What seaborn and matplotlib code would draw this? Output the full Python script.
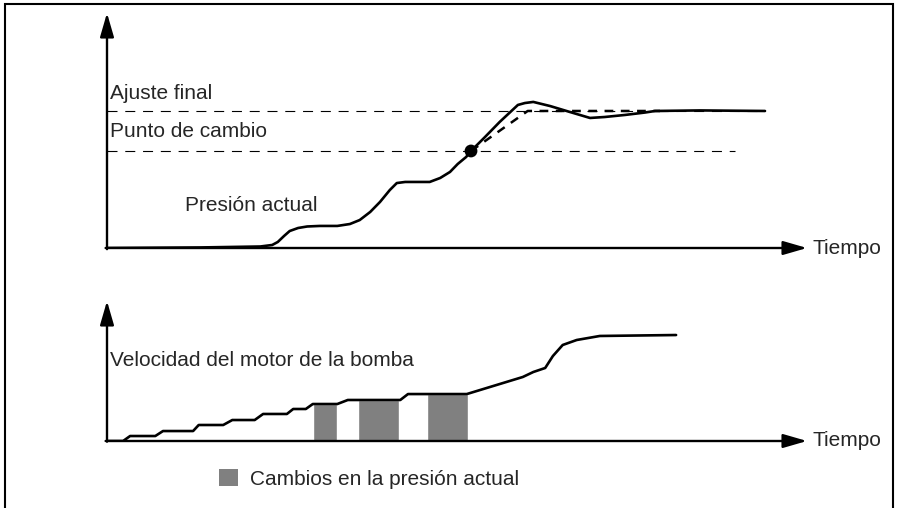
import matplotlib
matplotlib.use("Agg")
import matplotlib.pyplot as plt
import seaborn as sns
from matplotlib.patches import Patch, Rectangle

# presión actual (tiempo 0-100, presión 0-100 = ajuste final)
t_presion = [0, 13.3, 21.9, 23.6, 24.4, 25.3, 26.1, 27.3, 28.6, 30.4, 32.9, 34.7, 36.1,
             37.6, 39.0, 40.4, 41.4, 42.6, 46.1, 47.6, 49.0, 50.1, 51.3, 52.0, 54.0,
             56.1, 58.7, 59.7, 60.9, 63.3, 66.1, 69.0, 71.1, 74.0, 76.9, 78.3, 84.7, 94.0]
presion = [0, 0.4, 1.1, 2.2, 4.4, 8.8, 12.4, 14.6, 15.7, 16.1, 16.1, 17.5, 20.4,
           26.3, 33.6, 42.3, 47.4, 48.2, 48.2, 51.1, 55.5, 61.3, 66.4, 70.8, 81.0,
           92.0, 104.4, 105.8, 106.6, 103.6, 99.3, 94.9, 95.6, 97.1, 98.9, 100, 100.4, 100]

# rampa de consigna tras el punto de cambio
t_rampa = [52.0, 60.1, 79.0]
rampa = [70.8, 100, 100]

ajuste_final = 100
punto_cambio = 70.8
t_cambio = 52.0

# velocidad del motor de la bomba
t_vel = [0, 2.3, 3.3, 6.9, 8.0, 12.3, 13.1, 16.6, 17.9, 21.1, 22.3, 25.7, 26.6, 28.4,
         29.4, 32.9, 34.4, 41.9, 43.0, 51.4, 59.4, 60.9, 62.6, 63.7, 65.1, 67.1, 70.4, 81.3]
velocidad = [0, 0, 4.7, 4.7, 9.4, 9.4, 15.1, 15.1, 19.8, 19.8, 25.5, 25.5, 30.2, 30.2,
             34.9, 34.9, 38.7, 38.7, 44.3, 44.3, 60.4, 65.1, 68.9, 80.2, 90.6, 95.3, 99.1, 100]

# cambios en la presión actual (inicio, fin, altura)
cambio_ini = [29.4, 35.9, 45.7]
cambio_fin = [32.9, 41.7, 51.6]
cambio_alto = [34.9, 38.7, 44.3]

sns.set_style("white")
plt.rcParams['font.family'] = ['Liberation Sans', 'DejaVu Sans']
fs = 15

fig = plt.figure(figsize=(8.98, 5.08), dpi=100)
W, H = 898, 508
ax1 = fig.add_axes([107 / W, 1 - 248 / H, 700 / W, 235 / H])
ax2 = fig.add_axes([107 / W, 1 - 441 / H, 700 / W, 140 / H])

for ax in (ax1, ax2):
    ax.set_xlim(0, 100)
    for s in ax.spines.values():
        s.set_visible(False)
    ax.set_xticks([])
    ax.set_yticks([])
    ax.set_facecolor('none')
    arrow = dict(arrowstyle='-|>,head_length=1.45,head_width=0.42', lw=1.7,
                 color='black', shrinkA=0, shrinkB=0, mutation_scale=10)
    ax.annotate('', xy=(1, 0), xytext=(-0.002, 0), xycoords='axes fraction', arrowprops=arrow)
    ax.annotate('', xy=(0, 1), xytext=(0, -0.005), xycoords='axes fraction', arrowprops=arrow)
    ax.text(1.008, 0, 'Tiempo', transform=ax.transAxes, va='center', ha='left', fontsize=fs)

# panel superior
ax1.set_ylim(0, 171.5)
ax1.hlines([ajuste_final], 0, 94, colors='black', lw=0.8, linestyles=[(0, (9, 7))])
ax1.hlines([punto_cambio], 0, 89.7, colors='black', lw=0.8, linestyles=[(0, (9, 7))])
ax1.plot(t_rampa, rampa, color='black', lw=1.8, linestyle=(0, (3.5, 3)))
sns.lineplot(x=t_presion, y=presion, ax=ax1, color='black', lw=1.9, estimator=None, sort=False)
sns.scatterplot(x=[t_cambio], y=[punto_cambio], ax=ax1, color='black', s=85, zorder=5, edgecolor='none')
ax1.text(0.4, 113, 'Ajuste final', fontsize=fs, va='center', ha='left')
ax1.text(0.4, 84.7, 'Punto de cambio', fontsize=fs, va='center', ha='left')
ax1.text(11.1, 30.7, 'Presión actual', fontsize=fs, va='center', ha='left')

# panel inferior
ax2.set_ylim(0, 132.1)
anchos = [f - i for i, f in zip(cambio_ini, cambio_fin)]
ax2.bar(cambio_ini, cambio_alto, width=anchos, align='edge', color='#808080', zorder=1)
sns.lineplot(x=t_vel, y=velocidad, ax=ax2, color='black', lw=1.9, estimator=None, sort=False, zorder=3)
ax2.text(0.4, 76.4, 'Velocidad del motor de la bomba', fontsize=fs, va='center', ha='left')

fig.legend(handles=[Patch(facecolor='#808080', edgecolor='none', label='Cambios en la presión actual')],
           loc='center left', bbox_to_anchor=(200 / W, 1 - 479 / H), frameon=False,
           fontsize=fs, handlelength=0.9, handleheight=0.9, handletextpad=0.58)

fig.patches.append(Rectangle((5 / W, -0.02), 888 / W, 1 - 4 / H + 0.02, transform=fig.transFigure,
                             fill=False, lw=1.5, edgecolor='black'))

fig.savefig('out.png', dpi=100)
